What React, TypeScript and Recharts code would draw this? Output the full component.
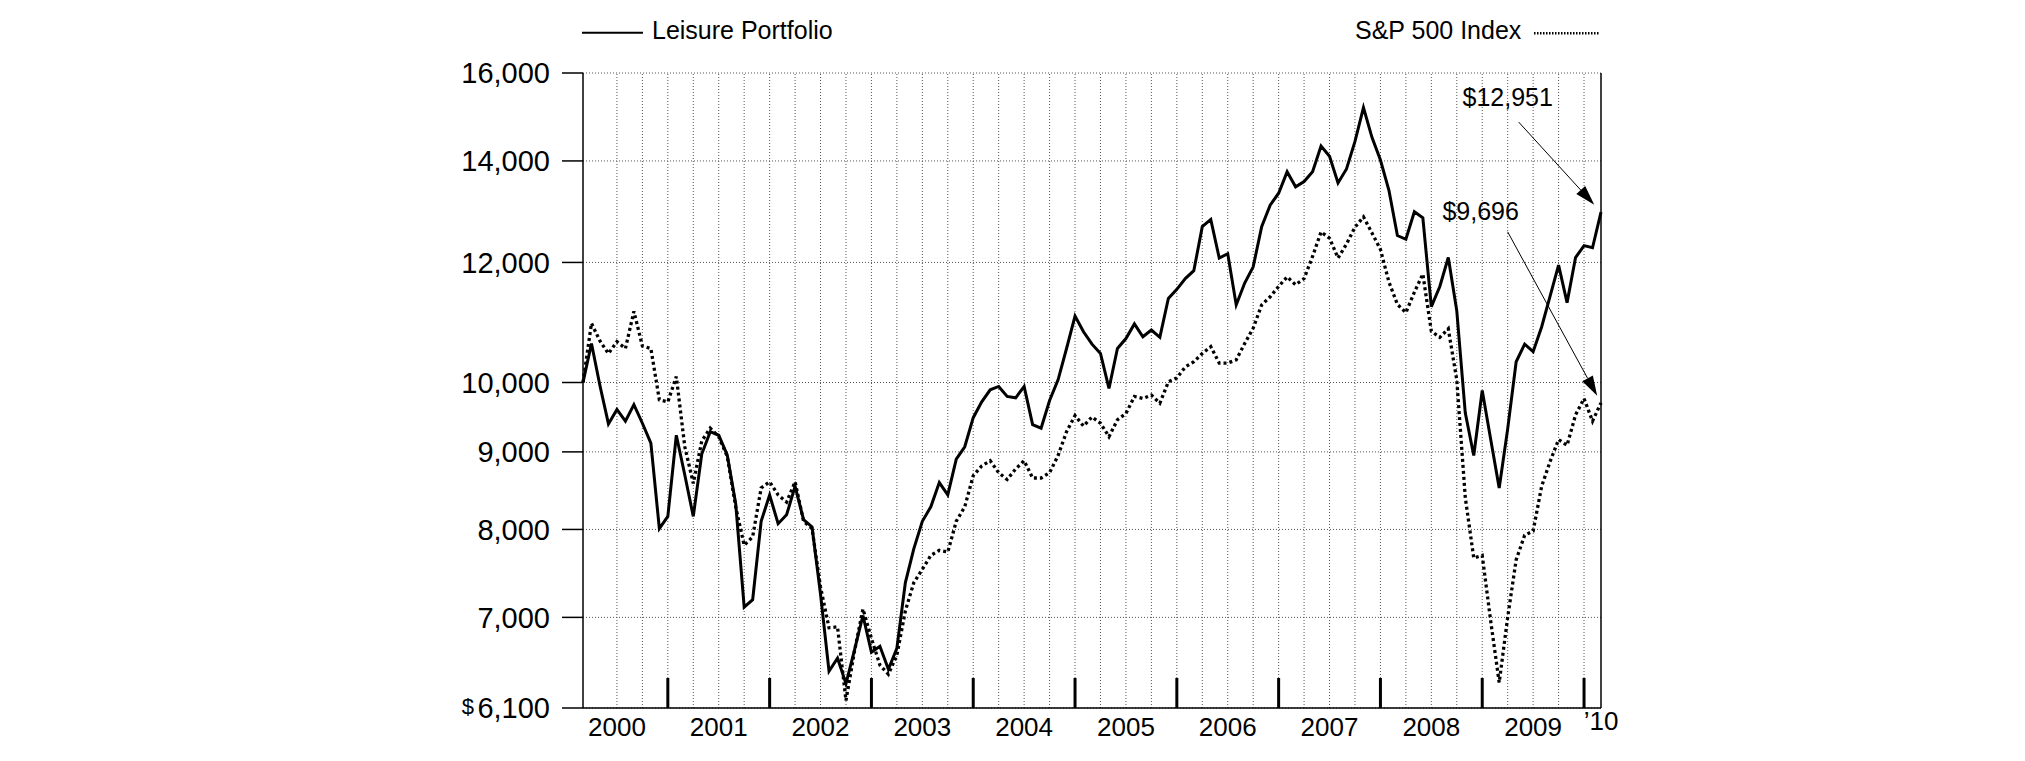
import React from 'react';
import { LineChart, Line, XAxis, YAxis, CartesianGrid, ReferenceLine } from 'recharts';

// month-end values of a hypothetical $10,000 investment, Feb 2000 .. Feb 2010
const leisure = [
  10000, 10610, 9950, 9390, 9600, 9430, 9670, 9400, 9120, 8010, 8160, 9230,
  8690, 8160, 8970, 9280, 9230, 8960, 8320, 7110, 7190, 8100, 8430, 8070,
  8180, 8540, 8120, 8030, 7250, 6450, 6580, 6330, 6660, 7020, 6640, 6700,
  6470, 6680, 7380, 7770, 8100, 8280, 8590, 8430, 8900, 9070, 9480, 9710,
  9890, 9940, 9790, 9770, 9940, 9380, 9330, 9730, 10040, 10530, 11060, 10800,
  10600, 10450, 9910, 10530, 10690, 10930, 10720, 10830, 10710, 11360, 11520, 11710,
  11850, 12670, 12810, 12080, 12160, 11250, 11630, 11920, 12670, 13090, 13330, 13770,
  13460, 13570, 13770, 14320, 14100, 13540, 13830, 14420, 15180, 14510, 14020, 13390,
  12500, 12430, 12960, 12840, 11220, 11570, 12090, 11150, 9550, 8950, 9880, 9170,
  8520, 9320, 10320, 10600, 10480, 10880, 11400, 11950, 11290, 12090, 12310, 12270,
  12951,
];

const sp500 = [
  10000, 10940, 10650, 10450, 10640, 10530, 11140, 10570, 10530, 9740, 9710, 10090,
  9070, 8580, 9150, 9330, 9210, 8940, 8280, 7810, 7910, 8520, 8600, 8430,
  8340, 8600, 8100, 8010, 7330, 6890, 6900, 6170, 6650, 7090, 6780, 6510,
  6420, 6610, 7070, 7380, 7530, 7690, 7750, 7730, 8100, 8280, 8680, 8810,
  8880, 8720, 8630, 8770, 8880, 8650, 8650, 8720, 8950, 9280, 9510, 9360,
  9490, 9400, 9210, 9450, 9540, 9790, 9760, 9810, 9690, 10010, 10070, 10240,
  10320, 10450, 10560, 10300, 10300, 10350, 10610, 10860, 11250, 11390, 11570, 11740,
  11600, 11710, 12110, 12570, 12450, 12080, 12340, 12660, 12860, 12550, 12240, 11650,
  11260, 11120, 11470, 11790, 10810, 10710, 10850, 10040, 8400, 7660, 7690, 6960,
  6340, 7000, 7640, 7930, 7980, 8540, 8870, 9170, 9090, 9520, 9760, 9430,
  9696,
];

const years = ['2000', '2001', '2002', '2003', '2004', '2005', '2006', '2007', '2008', '2009', '\u201910'];
const yTicks = [6100, 7000, 8000, 9000, 10000, 12000, 14000, 16000];

const FONT = '"Liberation Sans", Arial, Helvetica, sans-serif';
const FIRST_MONTH = 2; // series starts at the end of February

const data = leisure.map((v, i) => ({ t: i, leisure: v, sp500: sp500[i] }));
const lastT = data.length - 1;

// in month-index units: end of each December, and the middle of each year
const yearBounds = years.slice(1).map((_, k) => 12 * (k + 1) - FIRST_MONTH);
const yearMids = years.map((_, k) => (k === years.length - 1 ? lastT : 12 * k - FIRST_MONTH + 6));
const quarterLines: number[] = [];
for (let t = 4; t <= lastT; t += 3) quarterLines.push(t);

const XTick = ({ x, y, payload }: any) => {
  const v = payload.value;
  if (yearBounds.includes(v)) {
    return <line x1={x} x2={x} y1={y} y2={y - 30} stroke="#000" strokeWidth={3} />;
  }
  const k = yearMids.indexOf(v);
  const last = k === years.length - 1;
  return (
    <text x={x} y={y + (last ? 22 : 28)} textAnchor="middle" fontSize={26} fontFamily={FONT} fill="#000">
      {years[k]}
    </text>
  );
};

const YTick = ({ x, y, payload }: any) => {
  const v = payload.value as number;
  return (
    <g>
      <text x={x} y={y} dy="0.36em" textAnchor="end" fontSize={29} fontFamily={FONT} fill="#000">
        {v.toLocaleString('en-US')}
      </text>
      {v === yTicks[0] && (
        <text x={x - 76} y={y - 2} dy="0.36em" textAnchor="end" fontSize={22} fontFamily={FONT} fill="#000">
          $
        </text>
      )}
    </g>
  );
};

const arrow = (label: string, dx: number, dy: number, gap: number) => (p: any) => {
  const { x1, y1, x2, y2 } = p;
  const len = Math.hypot(x2 - x1, y2 - y1) || 1;
  const ux = (x2 - x1) / len;
  const uy = (y2 - y1) / len;
  const tx = x2 - ux * gap;
  const ty = y2 - uy * gap;
  const bx = tx - ux * 20;
  const by = ty - uy * 20;
  const nx = -uy * 6;
  const ny = ux * 6;
  return (
    <g>
      <line x1={x1} y1={y1} x2={bx} y2={by} stroke="#000" strokeWidth={1} />
      <polygon points={`${tx},${ty} ${bx + nx},${by + ny} ${bx - nx},${by - ny}`} fill="#000" />
      <text x={x1 + dx} y={y1 + dy} textAnchor="middle" fontSize={25} fontFamily={FONT} fill="#000">
        {label}
      </text>
    </g>
  );
};

export default function App() {
  const endL = leisure[lastT];
  const endS = sp500[lastT];
  return (
    <div style={{ position: 'relative', width: 2009, height: 745, fontFamily: FONT }}>
      <svg width={2009} height={60} style={{ position: 'absolute', left: 0, top: 0 }}>
        <line x1={574} x2={635} y1={24.7} y2={24.7} stroke="#000" strokeWidth={2} />
        <text x={644} y={31.3} fontSize={25} fontFamily={FONT} fill="#000">Leisure Portfolio</text>
        <text x={1347} y={31.3} fontSize={25} fontFamily={FONT} fill="#000">S&amp;P 500 Index</text>
        <line x1={1526} x2={1591} y1={25.3} y2={25.3} stroke="#000" strokeWidth={2.5} strokeDasharray="1.5 1.5" />
      </svg>
      <LineChart width={2009} height={745} data={data} margin={{ top: 65, right: 416, left: 0, bottom: 0 }}>
        <CartesianGrid vertical={false} stroke="#555" strokeDasharray="1 2" />
        {quarterLines.map((t) => (
          <ReferenceLine key={t} x={t} stroke="#555" strokeWidth={1} strokeDasharray="1 2" />
        ))}
        <ReferenceLine x={lastT} stroke="#000" strokeWidth={1.5} />
        <XAxis
          dataKey="t"
          type="number"
          domain={[0, lastT]}
          ticks={[...yearMids, ...yearBounds]}
          interval={0}
          height={45}
          tickLine={false}
          tickSize={0}
          tickMargin={0}
          axisLine={{ stroke: '#000', strokeWidth: 1.5 }}
          tick={<XTick />}
        />
        <YAxis
          type="number"
          scale="log"
          domain={[6100, 16000]}
          allowDataOverflow
          ticks={yTicks}
          interval={0}
          width={575}
          tickSize={21}
          tickMargin={12}
          tickLine={{ stroke: '#000', strokeWidth: 1.5 }}
          axisLine={{ stroke: '#000', strokeWidth: 1.5 }}
          tick={<YTick />}
        />
        <Line
          type="linear"
          dataKey="sp500"
          stroke="#000"
          strokeWidth={3.3}
          strokeDasharray="3 3"
          dot={false}
          isAnimationActive={false}
        />
        <Line type="linear" dataKey="leisure" stroke="#000" strokeWidth={3} dot={false} isAnimationActive={false} />
        <ReferenceLine
          segment={[{ x: 110.3, y: 14850 }, { x: lastT, y: endL }]}
          ifOverflow="visible"
          shape={arrow(`$${endL.toLocaleString('en-US')}`, -11, -16, 10)}
        />
        <ReferenceLine
          segment={[{ x: 109, y: 12570 }, { x: lastT, y: endS }]}
          ifOverflow="visible"
          shape={arrow(`$${endS.toLocaleString('en-US')}`, -27, -12, 8)}
        />
      </LineChart>
    </div>
  );
}
